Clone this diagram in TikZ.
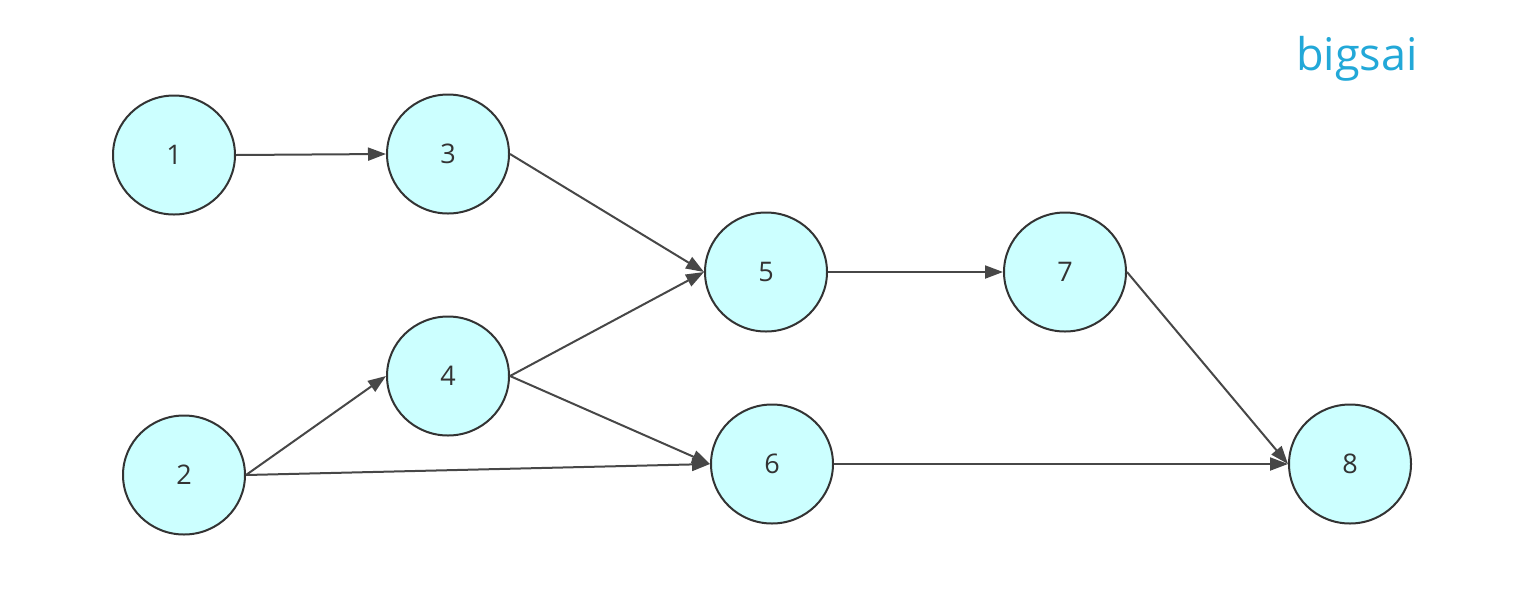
\documentclass[tikz,border=0pt]{standalone}
\usepackage{fontspec}
\setmainfont{Open Sans}
\usetikzlibrary{arrows.meta,shapes.geometric}
\definecolor{nodefill}{HTML}{CCFFFF}
\definecolor{stroke}{HTML}{333333}
\definecolor{brand}{HTML}{22A8D8}
\tikzset{
  vert/.style={ellipse, draw=stroke, fill=nodefill, line width=2pt,
    minimum width=122pt, minimum height=119pt, inner sep=0pt,
    font=\fontsize{27}{27}\selectfont, text=stroke},
  edge/.style={draw=stroke!90!white, line width=2pt, -{Triangle[length=18pt,width=13pt]}}
}
\begin{document}
\begin{tikzpicture}[x=1pt,y=-1pt]
\useasboundingbox (0,0) rectangle (1520,598);
\node[vert] (n1) at (174,155) {1};
\node[vert] (n3) at (448,154) {3};
\node[vert] (n5) at (766,272) {5};
\node[vert] (n7) at (1065,272) {7};
\node[vert] (n4) at (448,376) {4};
\node[vert] (n2) at (184,475) {2};
\node[vert] (n6) at (772,464) {6};
\node[vert] (n8) at (1350,464) {8};
\node[text=brand, font=\fontsize{45}{45}\selectfont] (brand) at (1357,59) {bigsai};
\draw[edge] (n1.east) -- (n3.west);
\draw[edge] (n3.east) -- (n5.west);
\draw[edge] (n4.east) -- (n5.west);
\draw[edge] (n4.east) -- (n6.west);
\draw[edge] (n2.east) -- (n4.west);
\draw[edge] (n2.east) -- (n6.west);
\draw[edge] (n5.east) -- (n7.west);
\draw[edge] (n6.east) -- (n8.west);
\draw[edge] (n7.east) -- (n8.west);
\end{tikzpicture}
\end{document}
